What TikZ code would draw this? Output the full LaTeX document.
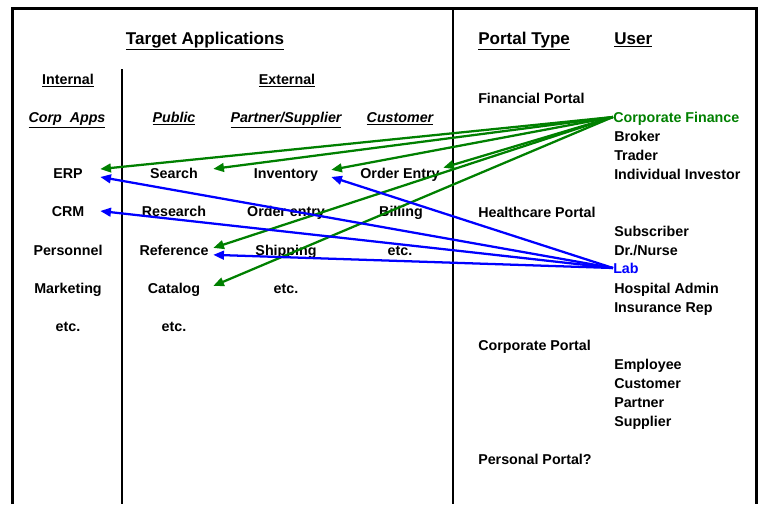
\documentclass[tikz,border=0pt]{standalone}
\usepackage{fontspec}
\setmainfont{Liberation Sans}
\usetikzlibrary{arrows.meta}
\definecolor{cfgreen}{RGB}{0,128,0}
\definecolor{labblue}{RGB}{0,0,255}
\tikzset{
  txt/.style={font=\fontsize{10.7}{12}\selectfont\bfseries, inner sep=0pt, text height=10.2pt, text depth=2.5pt, minimum height=16pt},
  lft/.style={txt, anchor=west},
  colint/.style={txt, minimum width=48pt},
  colpub/.style={txt, minimum width=58.5pt},
  colpart/.style={txt, minimum width=67.5pt},
  colcust/.style={txt, minimum width=64.5pt},
  garrow/.style={cfgreen, line width=1.7pt, -{Triangle[length=8pt,width=6.5pt]}},
  barrow/.style={labblue, line width=1.7pt, -{Triangle[length=8pt,width=6.5pt]}}
}
\begin{document}
\begin{tikzpicture}[x=0.75pt,y=0.75pt,yscale=-1,xscale=1]
\useasboundingbox (0,0) rectangle (760,504);

%Frame and dividers
\draw [line width=2.25pt] (12,504) -- (12,8) -- (756,8) -- (756,504) ;
\draw [line width=1.5pt] (453,8) -- (453,504) ;
\draw [line width=1.5pt] (122,69) -- (122,504) ;

% Headings
\draw (205,39) node [txt, font=\fontsize{12.8}{14}\selectfont\bfseries] (title) {\underline{Target Applications}};
\draw (68,79) node [txt] (internal) {\underline{Internal}};
\draw (287,79) node [txt] (external) {\underline{External}};
\draw (67,117) node [txt] (corpapps) {\itshape\underline{Corp\ \ Apps}};
\draw (174,117) node [txt] (public) {\itshape\underline{Public}};
\draw (286,117) node [txt] (partner) {\itshape\underline{Partner/Supplier}};
\draw (400,117) node [txt] (customer) {\itshape\underline{Customer}};
\draw (478,39) node [lft, font=\fontsize{12.8}{14}\selectfont\bfseries] (portaltype) {\underline{Portal Type}};
\draw (614,39) node [lft, font=\fontsize{12.8}{14}\selectfont\bfseries] (user) {\underline{User}};

% Internal column
\draw (68,173) node [colint] (erp) {ERP};
\draw (68,211) node [colint] (crm) {CRM};
\draw (68,250) node [colint] (personnel) {Personnel};
\draw (68,288) node [colint] (marketing) {Marketing};
\draw (68,326) node [colint] (etcint) {etc.};

% Public column
\draw (174,173) node [colpub] (search) {Search};
\draw (174,211) node [colpub] (research) {Research};
\draw (174,250) node [colpub] (reference) {Reference};
\draw (174,288) node [colpub] (catalog) {Catalog};
\draw (174,326) node [colpub] (etcpub) {etc.};

% Partner/Supplier column
\draw (286,173) node [colpart] (inventory) {Inventory};
\draw (286,211) node [colpart] (orderentry) {Order entry};
\draw (286,250) node [colpart] (shipping) {Shipping};
\draw (286,288) node [colpart] (etcpart) {etc.};

% Customer column
\draw (400,173) node [colcust] (orderentrycust) {Order Entry};
\draw (401,211) node [colcust] (billing) {Billing};
\draw (400,250) node [colcust] (etccust) {etc.};

% Portal types
\draw (478,98) node [lft] (financial) {Financial Portal};
\draw (478,212) node [lft] (healthcare) {Healthcare Portal};
\draw (478,345) node [lft] (corporate) {Corporate Portal};
\draw (478,459) node [lft] (personal) {Personal Portal?};

% Users
\draw (613,117) node [lft, text=cfgreen] (cf) {Corporate Finance};
\draw (614,136) node [lft] (broker) {Broker};
\draw (614,155) node [lft] (trader) {Trader};
\draw (614,174) node [lft] (investor) {Individual Investor};
\draw (614,231) node [lft] (subscriber) {Subscriber};
\draw (614,250) node [lft] (nurse) {Dr./Nurse};
\draw (613,268) node [lft, text=labblue] (lab) {Lab};
\draw (614,288) node [lft] (hospital) {Hospital Admin};
\draw (614,307) node [lft] (insurance) {Insurance Rep};
\draw (614,364) node [lft] (employee) {Employee};
\draw (614,383) node [lft] (custuser) {Customer};
\draw (614,402) node [lft] (partneruser) {Partner};
\draw (614,421) node [lft] (supplier) {Supplier};

% Corporate Finance arrows
\draw [garrow] (cf.west) -- (erp.7) ;
\draw [garrow] (cf.west) -- (search.6) ;
\draw [garrow] (cf.west) -- (inventory.4) ;
\draw [garrow] (cf.west) -- (orderentrycust.7) ;
\draw [garrow] (cf.west) -- (reference.3) ;
\draw [garrow] (cf.west) -- (catalog.3) ;

% Lab arrows
\draw [barrow] (lab.west) -- (erp.-7) ;
\draw [barrow] (lab.west) -- (crm.east) ;
\draw [barrow] (lab.west) -- (reference.-7) ;
\draw [barrow] (lab.west) -- (inventory.-5) ;

\end{tikzpicture}
\end{document}
